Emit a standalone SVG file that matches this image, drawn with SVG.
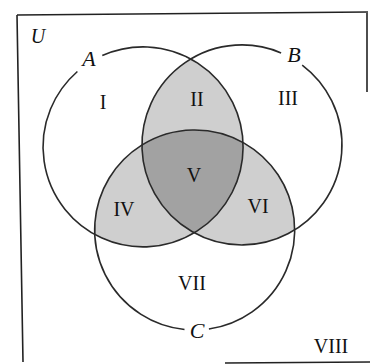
<svg xmlns="http://www.w3.org/2000/svg" width="370" height="364" viewBox="0 0 370 364">
<style>
.frame{fill:none;stroke:#222;stroke-width:1.6}
.circ{fill:none;stroke:#2a2a2a;stroke-width:1.6}
.light{fill:#cfcfcf}
.dark{fill:#a2a2a2}
.num{font-family:"Liberation Serif","Times New Roman",serif;font-size:20px;fill:#111;text-anchor:middle}
.lbl{font-family:"Liberation Serif","Times New Roman",serif;font-size:22px;font-style:italic;fill:#111;text-anchor:middle}
</style>
<defs>
<clipPath id="clipA"><circle cx="143" cy="147" r="100"/></clipPath>
<clipPath id="clipB"><circle cx="242" cy="145" r="100"/></clipPath>
<clipPath id="clipC"><circle cx="195" cy="230" r="100"/></clipPath>
</defs>
<rect width="370" height="364" fill="#fff"/>
<g id="frame">
<path class="frame" d="M17,15 L368,12 M17,15 L23,362 M367,12 L367,92 M225,363 L370,362"/>
</g>
<g id="shading">
<g clip-path="url(#clipA)"><circle class="light" cx="242" cy="145" r="100"/><circle class="light" cx="195" cy="230" r="100"/></g>
<g clip-path="url(#clipB)"><circle class="light" cx="195" cy="230" r="100"/></g>
<g clip-path="url(#clipA)"><g clip-path="url(#clipB)"><circle class="dark" cx="195" cy="230" r="100"/></g></g>
</g>
<g id="connectors">
<path id="circleA" class="circ" d="M102.3,55.6 A100,100 0 1 1 77.4,71.5"/>
<path id="circleB" class="circ" d="M302.2,65.1 A100,100 0 1 1 281.1,52.9"/>
<path id="circleC" class="circ" d="M184.5,329.5 A100,100 0 1 1 208.9,329.0"/>
</g>
<g id="U"><text class="lbl" x="38" y="43" style="font-size:20px">U</text></g>
<g id="A"><text class="lbl" x="89" y="66">A</text></g>
<g id="B"><text class="lbl" x="294" y="62">B</text></g>
<g id="C"><text class="lbl" x="197" y="338">C</text></g>
<g id="I"><text class="num" x="103" y="109">I</text></g>
<g id="II"><text class="num" x="197" y="106">II</text></g>
<g id="III"><text class="num" x="288" y="105">III</text></g>
<g id="IV"><text class="num" x="124" y="216">IV</text></g>
<g id="V"><text class="num" x="194" y="182">V</text></g>
<g id="VI"><text class="num" x="258" y="213">VI</text></g>
<g id="VII"><text class="num" x="192" y="290">VII</text></g>
<g id="VIII"><text class="num" x="331" y="353">VIII</text></g>
</svg>
